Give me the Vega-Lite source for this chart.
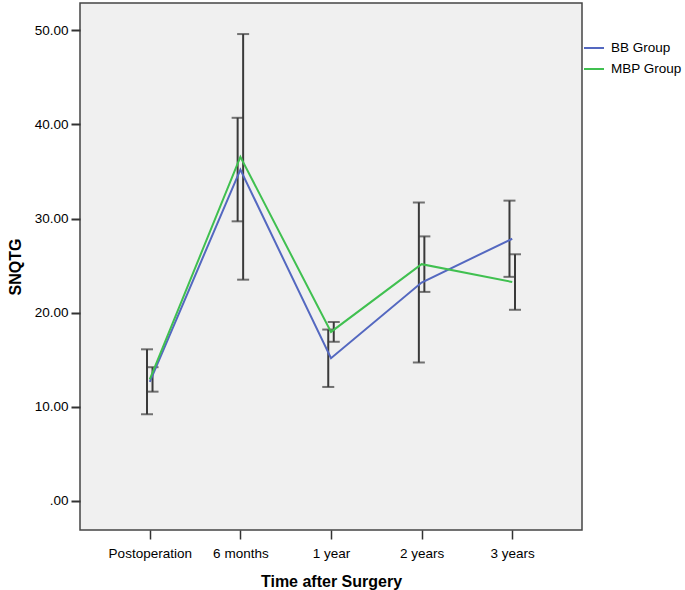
{
  "$schema": "https://vega.github.io/schema/vega-lite/v6.json",
  "width": 502,
  "height": 527,
  "autosize": {"type": "none"},
  "padding": {"left": 80, "top": 3, "right": 103, "bottom": 60},
  "background": "#ffffff",
  "config": {
    "font": "Liberation Sans",
    "view": {"fill": "#f0f0f0", "stroke": "#444444", "strokeWidth": 1.5},
    "axis": {"domain": false, "grid": false, "labelColor": "#000000", "labelFontSize": 13.5, "titleFontSize": 16, "titleFontWeight": "bold", "titleColor": "#000000"},
    "axisX": {"ticks": true, "tickColor": "#333333", "tickWidth": 1.5, "tickSize": 9},
    "axisY": {"ticks": true, "tickColor": "#333333", "tickWidth": 2, "tickSize": 9, "tickOpacity": 1}
  },
  "data": {
    "values": [
      {"time": "Postoperation", "group": "BB Group", "mean": 12.65, "lo": 9.2, "hi": 16.1},
      {"time": "6 months", "group": "BB Group", "mean": 35.2, "lo": 29.7, "hi": 40.7},
      {"time": "1 year", "group": "BB Group", "mean": 15.15, "lo": 12.1, "hi": 18.2},
      {"time": "2 years", "group": "BB Group", "mean": 23.2, "lo": 14.7, "hi": 31.7},
      {"time": "3 years", "group": "BB Group", "mean": 27.85, "lo": 23.8, "hi": 31.9},
      {"time": "Postoperation", "group": "MBP Group", "mean": 12.9, "lo": 11.6, "hi": 14.2},
      {"time": "6 months", "group": "MBP Group", "mean": 36.55, "lo": 23.5, "hi": 49.6},
      {"time": "1 year", "group": "MBP Group", "mean": 17.95, "lo": 16.9, "hi": 19.0},
      {"time": "2 years", "group": "MBP Group", "mean": 25.15, "lo": 22.2, "hi": 28.1},
      {"time": "3 years", "group": "MBP Group", "mean": 23.25, "lo": 20.3, "hi": 26.2}
    ]
  },
  "encoding": {
    "x": {
      "field": "time", "type": "nominal",
      "sort": ["Postoperation", "6 months", "1 year", "2 years", "3 years"],
      "scale": {"type": "point", "padding": 0.77},
      "axis": {"labelAngle": 0, "labelPadding": 7, "title": "Time after Surgery", "titlePadding": 14}
    },
    "y": {
      "field": "lo", "type": "quantitative",
      "scale": {"domain": [-3.1, 52.9], "nice": false, "zero": false},
      "axis": {"values": [0, 10, 20, 30, 40, 50], "labelExpr": "datum.value == 0 ? '.00' : format(datum.value, '.2f')", "labelPadding": 3, "title": "SNQTG", "titlePadding": 11}
    }
  },
  "layer": [
    {
      "mark": {"type": "rule", "color": "#3a3a3a", "strokeWidth": 2},
      "encoding": {
        "xOffset": {"field": "group", "type": "nominal", "scale": {"range": [-5.5, 5.5]}},
        "y2": {"field": "hi"}
      }
    },
    {
      "mark": {"type": "tick", "color": "#3a3a3a", "thickness": 2, "size": 12, "orient": "horizontal"},
      "encoding": {
        "xOffset": {"field": "group", "type": "nominal", "scale": {"range": [-5.5, 5.5]}}
      }
    },
    {
      "mark": {"type": "tick", "color": "#3a3a3a", "thickness": 2, "size": 12, "orient": "horizontal"},
      "encoding": {
        "xOffset": {"field": "group", "type": "nominal", "scale": {"range": [-5.5, 5.5]}},
        "y": {"field": "hi", "type": "quantitative"}
      }
    },
    {
      "mark": {"type": "line", "strokeWidth": 2},
      "encoding": {
        "y": {"field": "mean", "type": "quantitative"},
        "color": {
          "field": "group", "type": "nominal",
          "scale": {"domain": ["BB Group", "MBP Group"], "range": ["#5468c0", "#40c050"]},
          "legend": {"title": null, "orient": "none", "legendX": 503, "legendY": 34, "symbolType": "stroke", "symbolSize": 400, "symbolStrokeWidth": 2, "labelFontSize": 13.5, "labelColor": "#000000", "labelOffset": 6, "rowPadding": 3}
        }
      }
    }
  ]
}
